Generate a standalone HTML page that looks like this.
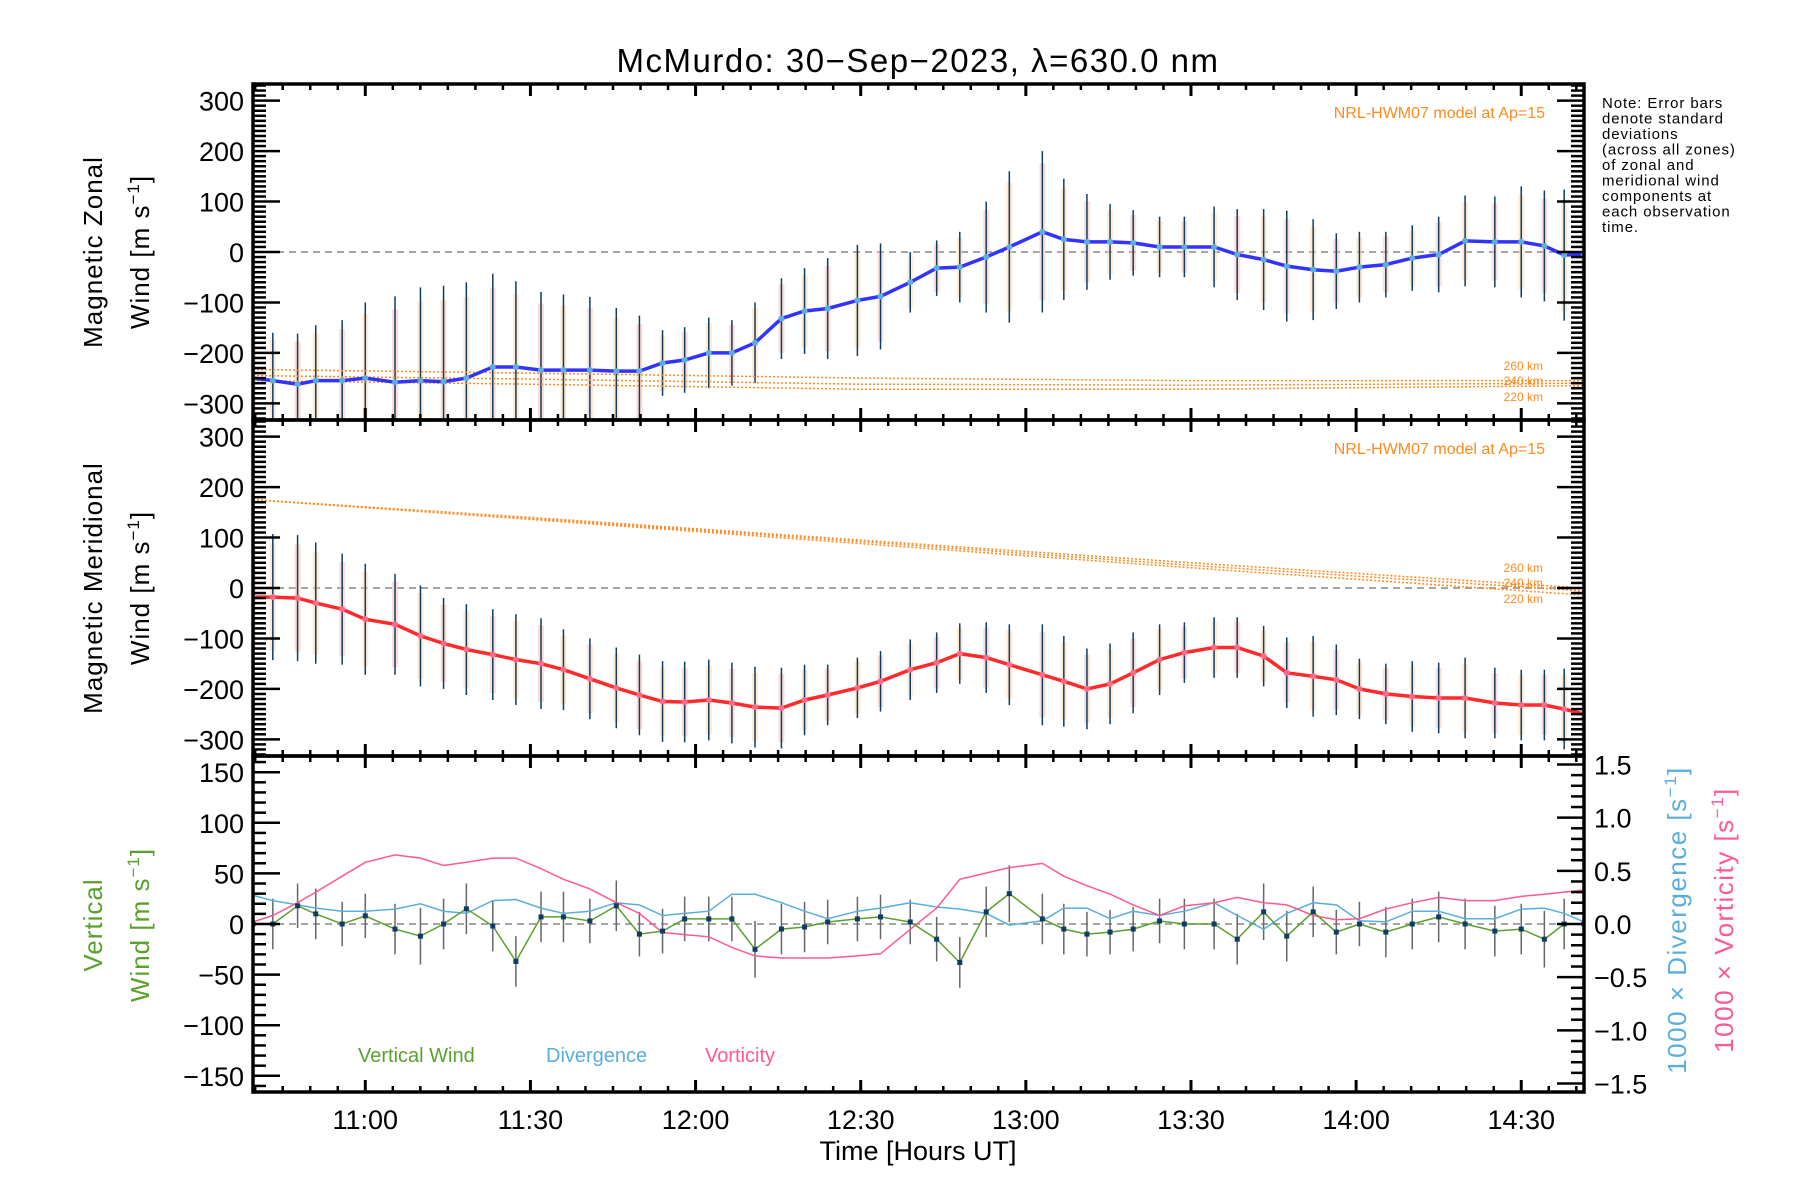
<!DOCTYPE html>
<html><head><meta charset="utf-8"><title>McMurdo winds</title>
<style>
html,body{margin:0;padding:0;background:#fff;}
svg{display:block;font-family:"Liberation Sans",sans-serif;}
</style></head>
<body>
<svg id="chart" width="1800" height="1200" viewBox="0 0 1800 1200" xmlns="http://www.w3.org/2000/svg">
<text x="918" y="72" font-size="33" letter-spacing="1.5" text-anchor="middle">McMurdo: 30−Sep−2023, λ=630.0 nm</text>
<g id="plot"></g>
<g font-size="15" letter-spacing="0.9" fill="#000">
<text x="1602" y="108">Note: Error bars</text>
<text x="1602" y="123.5">denote standard</text>
<text x="1602" y="139">deviations</text>
<text x="1602" y="154.5">(across all zones)</text>
<text x="1602" y="170">of zonal and</text>
<text x="1602" y="185.5">meridional wind</text>
<text x="1602" y="201">components at</text>
<text x="1602" y="216.5">each observation</text>
<text x="1602" y="232">time.</text>
</g>
</svg>
<script>
// observation times (decimal hours UT)
const times = [10.66,10.72,10.795,10.85,10.93,11.0,11.09,11.167,11.237,11.306,11.386,11.456,11.532,11.60,11.68,11.76,11.83,11.90,11.967,12.04,12.11,12.18,12.26,12.33,12.40,12.49,12.56,12.65,12.73,12.80,12.88,12.95,13.05,13.115,13.185,13.255,13.325,13.405,13.48,13.57,13.64,13.72,13.79,13.87,13.94,14.01,14.09,14.17,14.25,14.33,14.42,14.50,14.57,14.63,14.69];
const zonal = [-250,-255,-262,-255,-255,-250,-258,-255,-257,-250,-228,-228,-234,-234,-234,-236,-236,-220,-214,-200,-200,-180,-132,-117,-112,-96,-88,-60,-32,-30,-10,10,40,25,20,20,18,10,10,10,-5,-15,-28,-35,-38,-30,-25,-12,-5,22,20,20,12,-6,-5];
const zonalSd = [100,95,100,110,120,150,170,185,190,190,185,170,155,150,145,125,110,65,65,70,65,80,80,85,100,110,105,60,55,70,110,150,160,120,95,75,65,60,60,80,90,100,110,100,75,70,65,65,75,90,90,110,110,130,120];
const merid = [-18,-18,-20,-30,-42,-62,-72,-95,-110,-122,-132,-142,-150,-162,-180,-198,-212,-225,-226,-222,-228,-236,-238,-222,-212,-198,-185,-162,-148,-130,-138,-152,-172,-185,-200,-190,-168,-142,-128,-118,-118,-135,-168,-175,-182,-200,-210,-215,-218,-218,-228,-232,-232,-240,-250];
const meridSd = [120,125,125,120,110,110,100,100,90,90,90,90,90,80,80,80,80,80,80,80,80,80,80,70,60,60,60,60,60,60,70,80,100,90,80,80,80,70,60,60,60,60,70,80,70,60,60,70,70,80,70,70,70,80,70];
const vert = [0,0,18,10,0,8,-5,-12,0,15,-2,-37,7,7,3,18,-10,-7,5,5,5,-25,-5,-3,2,5,7,2,-15,-38,12,30,5,-5,-10,-8,-5,3,0,0,-15,12,-12,12,-8,0,-8,0,7,0,-7,-5,-15,0,0];
const vertSd = [25,25,22,25,22,22,25,28,25,25,25,25,25,25,22,25,22,22,22,22,22,28,25,25,22,22,22,22,22,25,25,28,25,25,22,22,22,22,25,25,25,28,25,25,22,22,25,25,25,25,25,25,28,25,25];
const diverg = [0.27,0.22,0.18,0.15,0.12,0.12,0.14,0.19,0.12,0.10,0.22,0.23,0.15,0.10,0.12,0.20,0.18,0.08,0.10,0.12,0.28,0.28,0.20,0.12,0.05,0.12,0.15,0.20,0.16,0.14,0.10,-0.01,0.03,0.15,0.15,0.05,0.12,0.08,0.12,0.20,0.08,-0.05,0.10,0.20,0.18,0.03,0.02,0.12,0.12,0.05,0.05,0.14,0.15,0.10,0.02];
const vortic = [0.02,0.08,0.20,0.30,0.45,0.58,0.65,0.62,0.55,0.58,0.62,0.62,0.52,0.42,0.33,0.20,0.10,-0.08,-0.10,-0.12,-0.22,-0.30,-0.32,-0.32,-0.32,-0.30,-0.28,-0.05,0.15,0.42,0.48,0.53,0.57,0.45,0.36,0.28,0.18,0.08,0.17,0.20,0.25,0.20,0.18,0.08,0.04,0.05,0.14,0.20,0.25,0.22,0.22,0.26,0.28,0.30,0.32];
// NRL-HWM07 model
const modelTimes = [10.66,11.5,12.5,13.5,14.69];
const zonalModel260 = [-233,-240,-250,-255,-255];
const zonalModel240 = [-245,-252,-262,-264,-260];
const zonalModel220 = [-255,-262,-272,-272,-265];
const meridModel260 = [175,140,95,50,0];
const meridModel240 = [175,138,92,45,-6];
const meridModel220 = [175,136,88,40,-14];
const xTickLabels = ["11:00","11:30","12:00","12:30","13:00","13:30","14:00","14:30"];
const xTickHours = [11,11.5,12,12.5,13,13.5,14,14.5];
const windTicks = [300,200,100,0,-100,-200,-300];
const vertTicks = [150,100,50,0,-50,-100,-150];
const rightTicks = [1.5,1.0,0.5,0.0,-0.5,-1.0,-1.5];

const NS='http://www.w3.org/2000/svg';
const root=document.getElementById('plot');
const L=253,R=1584,T0=10.66,T1=14.69;
const panels=[{top:84,bot:420},{top:420,bot:756},{top:756,bot:1092}];
function X(t){return L+(t-T0)/(T1-T0)*(R-L);}
function Yp(p,v,lim){const c=(p.top+p.bot)/2;return c-v/lim*(p.bot-p.top)/2;}
function el(tag,attrs,parent){const e=document.createElementNS(NS,tag);for(const k in attrs)e.setAttribute(k,attrs[k]);(parent||root).appendChild(e);return e;}
function fmt(v){return (v<0?'\u2212':'')+Math.abs(v);}

const ZL=333,VL=166,RL=1.58;
const Y1=v=>Yp(panels[0],v,ZL), Y2=v=>Yp(panels[1],v,ZL), Y3=v=>Yp(panels[2],v,VL), Y3r=v=>Yp(panels[2],v,RL);

[[Y1(0),'zonal-zero-line'],[Y2(0),'meridional-zero-line'],[Y3(0),'vertical-zero-line']].forEach(([y,n])=>{
  const l=el('line',{x1:L,x2:R,y1:y,y2:y,stroke:'#888','stroke-width':1.5,'stroke-dasharray':'7,5'});
  
  
});

function polyline(ts,vs,yf,attrs,name){
  const pts=ts.map((t,i)=>X(t).toFixed(1)+','+yf(vs[i]).toFixed(1)).join(' ');
  const p=el('polyline',Object.assign({points:pts,fill:'none'},attrs));
  
  
  return p;
}
function errorBars(vals,sds,yf,name,faint){
  const g=el('g',{});
  
  
  times.forEach((t,i)=>{
    if(faint){
      const r=el('rect',{x:X(t)-3,y:yf(vals[i]+sds[i]*0.85),width:6,height:yf(vals[i]-sds[i]*0.85)-yf(vals[i]+sds[i]*0.85),fill:i%2?'#ffd9b0':'#f9c4b8',opacity:0.55},g);
      
      
    }
    const b=el('line',{x1:X(t),x2:X(t),y1:yf(vals[i]+sds[i]),y2:yf(vals[i]-sds[i]),stroke:faint?'#0d3d63':'#666','stroke-width':1.5},g);
    
    
  });
}
function clipPanel(p,id){
  const cp=el('clipPath',{id:id});
  el('rect',{x:L,y:p.top,width:R-L,height:p.bot-p.top},cp);
}
clipPanel(panels[0],'c1');clipPanel(panels[1],'c2');clipPanel(panels[2],'c3');

const g1=el('g',{'clip-path':'url(#c1)'});


errorBars(zonal,zonalSd,Y1,'zonal-error-bars',true);
[[zonalModel260,'zonal-model-260km'],[zonalModel240,'zonal-model-240km'],[zonalModel220,'zonal-model-220km']].forEach(([a,n])=>{
  polyline(modelTimes,a,Y1,{stroke:'#ff8a1e','stroke-width':1.5,'stroke-dasharray':'2,2'},n);
});
polyline(times,zonal,Y1,{stroke:'#3333ff','stroke-width':3.5},'zonal-wind-line');
times.forEach((t,i)=>{const c=el('circle',{cx:X(t),cy:Y1(zonal[i]),r:3,fill:'#5aaee0'});
  
  });
while(root.lastChild!==g1){const n=g1.nextSibling;g1.appendChild(n);}

const g2=el('g',{'clip-path':'url(#c2)'});


errorBars(merid,meridSd,Y2,'meridional-error-bars',true);
[[meridModel260,'meridional-model-260km'],[meridModel240,'meridional-model-240km'],[meridModel220,'meridional-model-220km']].forEach(([a,n])=>{
  polyline(modelTimes,a,Y2,{stroke:'#ff8a1e','stroke-width':1.5,'stroke-dasharray':'2,2'},n);
});
polyline(times,merid,Y2,{stroke:'#ff2a2a','stroke-width':3.5},'meridional-wind-line');
times.forEach((t,i)=>{const c=el('circle',{cx:X(t),cy:Y2(merid[i]),r:3,fill:'#ff6a8a'});
  
  });
while(root.lastChild!==g2){const n=g2.nextSibling;g2.appendChild(n);}

const g3=el('g',{'clip-path':'url(#c3)'});


errorBars(vert,vertSd,Y3,'vertical-error-bars',false);
polyline(times,diverg,Y3r,{stroke:'#5aaedc','stroke-width':1.5},'divergence-line');
polyline(times,vortic,Y3r,{stroke:'#ff5a8c','stroke-width':1.5},'vorticity-line');
polyline(times,vert,Y3,{stroke:'#5aa02c','stroke-width':1.5},'vertical-wind-line');
times.forEach((t,i)=>{const c=el('rect',{x:X(t)-2.5,y:Y3(vert[i])-2.5,width:5,height:5,fill:'#0d3d63'});
  
  });
while(root.lastChild!==g3){const n=g3.nextSibling;g3.appendChild(n);}

const ax=el('g',{stroke:'#000',fill:'none'});


panels.forEach((p,pi)=>{
  const r=el('rect',{x:L,y:p.top,width:R-L,height:p.bot-p.top,'stroke-width':3.5},ax);
  
  
  for(let m=Math.ceil(T0*12);m<=T1*12;m++){
    const t=m/12,maj=(m%6===0),len=maj?12:6;
    el('line',{x1:X(t),x2:X(t),y1:p.top,y2:p.top+len,'stroke-width':maj?3:2.5},ax);
    el('line',{x1:X(t),x2:X(t),y1:p.bot,y2:p.bot-len,'stroke-width':maj?3:2.5},ax);
  }
  if(pi<2){
    const yf=pi===0?Y1:Y2;
    for(let v=-330;v<=330;v+=10){
      const maj=(v%100===0),len=maj?27:13;
      el('line',{x1:L,x2:L+len,y1:yf(v),y2:yf(v),'stroke-width':2.5},ax);
      el('line',{x1:R,x2:R-len,y1:yf(v),y2:yf(v),'stroke-width':2.5},ax);
    }
  } else {
    for(let v=-160;v<=160;v+=10){
      const maj=(v%50===0),len=maj?27:13;
      el('line',{x1:L,x2:L+len,y1:Y3(v),y2:Y3(v),'stroke-width':2.5},ax);
    }
    for(let k=-15;k<=15;k++){
      const v=k/10,maj=(k%5===0),len=maj?27:13;
      el('line',{x1:R,x2:R-len,y1:Y3r(v),y2:Y3r(v),'stroke-width':2.5},ax);
    }
  }
});

const lab=el('g',{'font-size':27,fill:'#000'});


windTicks.forEach(v=>{
  [Y1,Y2].forEach((yf,k)=>{const t=el('text',{x:244,y:yf(v)+10,'text-anchor':'end'},lab);t.textContent=fmt(v);
    
    });
});
vertTicks.forEach(v=>{const t=el('text',{x:244,y:Y3(v)+10,'text-anchor':'end'},lab);t.textContent=fmt(v);
  
  });
rightTicks.forEach(v=>{const t=el('text',{x:1594,y:Y3r(v)+10},lab);t.textContent=(v<0?'\u2212':'')+Math.abs(v).toFixed(1);
  
  });
xTickHours.forEach((h,i)=>{const t=el('text',{x:X(h),y:1129,'text-anchor':'middle'},lab);t.textContent=xTickLabels[i];
  
  });
</script>
<div style="position:absolute;left:0;top:0;width:1800px;height:1200px;pointer-events:none">
<svg width="1800" height="1200" style="font-family:'Liberation Sans',sans-serif">
<text x="918" y="1160" font-size="27" text-anchor="middle">Time [Hours UT]</text>
<text transform="translate(102,252) rotate(-90)" font-size="26" letter-spacing="1" text-anchor="middle">Magnetic Zonal</text>
<text transform="translate(149,252) rotate(-90)" font-size="26" letter-spacing="1" text-anchor="middle">Wind [m s<tspan font-size="17" dy="-10">−1</tspan><tspan dy="10">]</tspan></text>
<text transform="translate(102,588) rotate(-90)" font-size="26" letter-spacing="1" text-anchor="middle">Magnetic Meridional</text>
<text transform="translate(149,588) rotate(-90)" font-size="26" letter-spacing="1" text-anchor="middle">Wind [m s<tspan font-size="17" dy="-10">−1</tspan><tspan dy="10">]</tspan></text>
<text transform="translate(102,925) rotate(-90)" font-size="26" letter-spacing="1" fill="#5aa02c" text-anchor="middle">Vertical</text>
<text transform="translate(149,925) rotate(-90)" font-size="26" letter-spacing="1" fill="#5aa02c" text-anchor="middle">Wind [m s<tspan font-size="17" dy="-10">−1</tspan><tspan dy="10">]</tspan></text>
<text transform="translate(1686,920) rotate(-90)" font-size="26" letter-spacing="1.5" fill="#5aaedc" text-anchor="middle">1000 × Divergence [s<tspan font-size="17" dy="-10">−1</tspan><tspan dy="10">]</tspan></text>
<text transform="translate(1733,920) rotate(-90)" font-size="26" letter-spacing="1.5" fill="#ff5a8c" text-anchor="middle">1000 × Vorticity [s<tspan font-size="17" dy="-10">−1</tspan><tspan dy="10">]</tspan></text>
<text x="1545" y="118" font-size="16" fill="#ff8a1e" text-anchor="end">NRL-HWM07 model at Ap=15</text>
<text x="1545" y="454" font-size="16" fill="#ff8a1e" text-anchor="end">NRL-HWM07 model at Ap=15</text>
<g font-size="12" fill="#ff8a1e" text-anchor="end">
<text x="1543" y="370">260 km</text><text x="1543" y="385">240 km</text><text x="1543" y="401">220 km</text>
<text x="1543" y="572">260 km</text><text x="1543" y="587">240 km</text><text x="1543" y="603">220 km</text>
</g>
<text x="358" y="1062" font-size="20" fill="#5aa02c">Vertical Wind</text>
<text x="546" y="1062" font-size="20" fill="#5aaedc">Divergence</text>
<text x="705" y="1062" font-size="20" fill="#ff5a8c">Vorticity</text>
</svg></div>
</body></html>
